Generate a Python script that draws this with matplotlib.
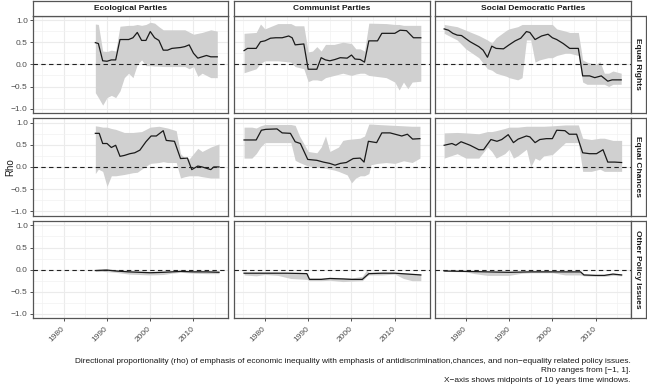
import matplotlib
matplotlib.use("Agg")
import matplotlib.pyplot as plt
from matplotlib.ticker import MultipleLocator

plt.rcParams['font.family'] = ['Liberation Sans', 'DejaVu Sans']

parties = ['Ecological Parties', 'Communist Parties', 'Social Democratic Parties']
issues = ['Equal Rights', 'Equal Chances', 'Other Policy Issues']
caption = ['Directional proportionality (rho) of emphasis of economic inequality with emphasis of '
           'antidiscrimination,chances, and non\u2212equality related policy issues.',
           'Rho ranges from [\u22121, 1].',
           'X\u2212axis shows midpoints of 10 years time windows.']

# --- Equal Rights ---
eco_rights_yr = [1987.3, 1988, 1989, 1990, 1991, 1992, 1993, 1995, 1996, 1997, 1998, 1999, 2000, 2001,
                 2002, 2003, 2004, 2005, 2007, 2008, 2009, 2010, 2011, 2012, 2013, 2014, 2015.5]
eco_rights_rho = [0.49, 0.47, 0.08, 0.07, 0.10, 0.10, 0.56, 0.56, 0.60, 0.72, 0.54, 0.54, 0.74, 0.60,
                  0.54, 0.32, 0.32, 0.36, 0.38, 0.40, 0.44, 0.25, 0.14, 0.17, 0.20, 0.17, 0.17]
eco_rights_band_yr = [1987.3, 1988, 1989, 1990, 1991, 1992, 1993, 1994, 1995, 1996, 1997, 1998, 1999,
                      2000, 2001, 2002, 2003, 2005, 2008, 2009, 2010, 2011, 2012, 2013, 2014, 2015.5]
eco_rights_hi = [0.91, 0.90, 0.30, 0.29, 0.32, 0.30, 0.86, 0.87, 0.88, 0.88, 0.90, 0.88, 0.90,
                 0.95, 0.93, 0.85, 0.78, 0.78, 0.78, 0.73, 0.68, 0.70, 0.72, 0.75, 0.78, 0.75]
eco_rights_lo = [-0.64, -0.75, -0.92, -0.75, -0.70, -0.75, -0.60, -0.30, -0.20, -0.30, 0.00, 0.10, -0.03,
                 -0.03, -0.04, -0.04, -0.05, -0.05, -0.05, -0.10, -0.05, -0.27, -0.20, -0.25, -0.30, -0.30]

com_rights_yr = [1975.2, 1976, 1978, 1979, 1980, 1981.3, 1982.5, 1984, 1985.5, 1986.3, 1987, 1989, 1990,
                 1992, 1993, 1994, 1995, 1996.2, 1997.4, 1999, 2000, 2000.8, 2002, 2003, 2004, 2006,
                 2007, 2008.5, 2010, 2011.2, 2012.7, 2014.3, 2016]
com_rights_rho = [0.31, 0.36, 0.36, 0.51, 0.53, 0.59, 0.60, 0.60, 0.64, 0.60, 0.44, 0.46, -0.11,
                  -0.11, 0.15, 0.10, 0.08, 0.11, 0.15, 0.14, 0.21, 0.12, 0.11, 0.05, 0.53, 0.53,
                  0.70, 0.70, 0.70, 0.77, 0.76, 0.60, 0.60]
com_rights_band_yr = [1975.2, 1978, 1979, 1980, 1983, 1986, 1987, 1989, 1990, 1991, 1992, 1993, 1994,
                      1996, 1998, 2000, 2001, 2002, 2003, 2004, 2008, 2010, 2011, 2012, 2013, 2014, 2016]
com_rights_hi = [0.70, 0.72, 0.91, 0.80, 0.92, 0.92, 0.87, 0.87, 0.28, 0.30, 0.40, 0.30, 0.45,
                 0.45, 0.50, 0.47, 0.35, 0.35, 0.30, 0.93, 0.92, 0.90, 0.90, 0.88, 0.88, 0.88, 0.88]
com_rights_lo = [-0.19, -0.10, 0.02, 0.08, 0.08, 0.05, -0.05, -0.10, -0.39, -0.35, -0.35, -0.37, -0.30,
                 -0.25, -0.20, -0.25, -0.22, -0.20, -0.20, -0.25, -0.30, -0.40, -0.58, -0.40, -0.55, -0.40, -0.38]

sd_rights_yr = [1975, 1976, 1977, 1978, 1979, 1981, 1983, 1984, 1985, 1986, 1987, 1988.7, 1990, 1991.4,
                1992.7, 1994, 1994.8, 1996, 1997.5, 1999, 2000, 2001, 2002.5, 2004, 2006, 2007, 2008.6,
                2009.8, 2011.3, 2012.8, 2013.8, 2015.9]
sd_rights_rho = [0.80, 0.77, 0.70, 0.66, 0.65, 0.51, 0.40, 0.32, 0.16, 0.41, 0.36, 0.35, 0.44, 0.53,
                 0.59, 0.74, 0.72, 0.56, 0.64, 0.68, 0.60, 0.56, 0.47, 0.36, 0.36, -0.26, -0.26,
                 -0.30, -0.26, -0.38, -0.35, -0.35]
sd_rights_band_yr = [1975, 1978, 1980, 1983, 1985, 1986, 1987, 1989.4, 1990, 1992, 1993, 1994, 1995,
                     1996, 1997, 1999, 2000, 2001, 2003, 2004, 2006, 2007, 2008, 2010, 2011, 2012,
                     2013, 2014, 2015.9]
sd_rights_hi = [0.90, 0.85, 0.77, 0.65, 0.55, 0.48, 0.60, 0.77, 0.80, 0.85, 0.90, 0.90, 0.90,
                0.90, 0.90, 0.90, 0.90, 0.80, 0.75, 0.72, 0.72, 0.10, 0.05, 0.00, 0.06, -0.20,
                -0.20, -0.15, -0.20]
sd_rights_lo = [0.70, 0.55, 0.35, 0.15, -0.10, -0.13, -0.20, -0.27, -0.30, -0.35, -0.30, 0.55, 0.55,
                0.05, 0.10, 0.15, 0.15, 0.20, 0.25, 0.25, 0.20, -0.40, -0.45, -0.45, -0.45, -0.45,
                -0.50, -0.45, -0.45]

# --- Equal Chances ---
eco_chances_yr = [1987.3, 1988.2, 1989, 1990, 1991, 1992, 1993, 1994, 1995.3, 1996.4, 1997.6, 1999,
                  2000.2, 2001.4, 2003, 2003.7, 2005.6, 2007, 2008.6, 2009.6, 2011, 2012, 2014, 2014.7, 2015.9]
eco_chances_rho = [0.76, 0.76, 0.53, 0.53, 0.44, 0.49, 0.24, 0.26, 0.30, 0.32, 0.38, 0.57,
                   0.70, 0.70, 0.82, 0.60, 0.58, 0.19, 0.20, -0.06, 0.02, 0.00, -0.06, 0.00, 0.00]
eco_chances_band_yr = [1987.3, 1988, 1989, 1990, 1991, 1992, 1994, 1995, 1996, 1997, 1998, 2000,
                       2002, 2003, 2004, 2006, 2007, 2008, 2009, 2011, 2012, 2014, 2015.9]
eco_chances_hi = [0.93, 0.92, 0.90, 0.90, 0.87, 0.85, 0.78, 0.78, 0.78, 0.79, 0.80, 0.90,
                  0.92, 0.90, 0.88, 0.82, 0.30, 0.20, 0.18, 0.42, 0.35, 0.45, 0.52]
eco_chances_lo = [-0.15, -0.05, -0.10, -0.44, -0.20, -0.20, -0.17, -0.15, -0.13, -0.12, -0.05, 0.08,
                  0.10, 0.12, 0.10, 0.10, -0.25, -0.22, -0.20, -0.20, -0.22, -0.25, -0.25]

com_chances_yr = [1975.2, 1978, 1979.2, 1980.2, 1982.8, 1984, 1985.9, 1987, 1988.2, 1989.9, 1992, 1993.5,
                  1995, 1996.2, 1997.4, 1998.8, 2000.4, 2002, 2002.9, 2003.9, 2005.8, 2007, 2008.9,
                  2011.6, 2012.9, 2014.1, 2015.8]
com_chances_rho = [0.61, 0.61, 0.83, 0.85, 0.86, 0.77, 0.76, 0.57, 0.53, 0.17, 0.15, 0.11,
                   0.08, 0.04, 0.08, 0.10, 0.19, 0.20, 0.11, 0.58, 0.55, 0.77, 0.77,
                   0.70, 0.74, 0.63, 0.64]
com_chances_band_yr = [1975.2, 1977, 1978, 1979, 1980, 1986, 1987, 1988, 1990, 1992, 1993, 1994, 1995,
                       1996, 1997, 1998, 1999, 2000, 2001, 2002, 2003, 2004, 2004.5, 2006, 2008, 2010,
                       2012, 2014, 2015.8]
com_chances_hi = [0.90, 0.90, 0.88, 0.93, 0.96, 0.96, 0.94, 0.70, 0.35, 0.32, 0.45, 0.70, 0.35,
                  0.40, 0.45, 0.60, 0.62, 0.63, 0.64, 0.65, 0.70, 0.97, 0.97, 0.96, 0.95, 0.94,
                  0.93, 0.92, 0.92]
com_chances_lo = [0.20, 0.20, 0.30, 0.45, 0.55, 0.55, 0.15, 0.10, 0.02, 0.00, -0.02, -0.03, -0.05,
                  -0.07, -0.10, -0.14, -0.18, -0.36, -0.25, -0.20, -0.20, -0.15, 0.05, 0.08, 0.10, 0.08,
                  0.14, 0.10, 0.20]

sd_chances_yr = [1975, 1976.8, 1977.7, 1978.9, 1981, 1983, 1984.1, 1985.8, 1987.2, 1988.3, 1989.8, 1991,
                 1992.1, 1994, 1994.8, 1996, 1997.1, 1998.6, 2000, 2001, 2002.9, 2003.9, 2005.6, 2007,
                 2008.6, 2010.2, 2011.7, 2012.8, 2014.4, 2016]
sd_chances_rho = [0.49, 0.53, 0.49, 0.57, 0.49, 0.39, 0.39, 0.62, 0.58, 0.62, 0.73, 0.55,
                  0.63, 0.70, 0.68, 0.55, 0.62, 0.64, 0.64, 0.83, 0.82, 0.74, 0.74, 0.32,
                  0.30, 0.30, 0.39, 0.11, 0.11, 0.10]
sd_chances_band_yr = [1975, 1978, 1980, 1983, 1985, 1986, 1987, 1989, 1990, 1991, 1992, 1994, 1995,
                      1996, 1997, 1998, 2000, 2003, 2006, 2007, 2009, 2011, 2012, 2014, 2016]
sd_chances_hi = [0.77, 0.78, 0.77, 0.75, 0.80, 0.80, 0.82, 0.87, 0.90, 0.90, 0.90, 0.92, 0.92,
                 0.92, 0.92, 0.92, 0.93, 0.95, 0.95, 0.65, 0.62, 0.65, 0.65, 0.60, 0.60]
sd_chances_lo = [0.20, 0.30, 0.20, 0.20, 0.45, 0.35, 0.20, 0.30, 0.40, 0.20, 0.25, 0.40, 0.00,
                 0.20, 0.15, 0.25, 0.28, 0.55, 0.55, -0.10, -0.10, -0.05, -0.10, -0.10, -0.10]

# --- Other Policy Issues ---
eco_other_yr = [1987.3, 1990, 1992, 1995, 2000, 2003, 2005, 2007, 2010, 2013, 2015.9]
eco_other_rho = [-0.02, -0.01, -0.03, -0.05, -0.07, -0.06, -0.05, -0.04, -0.05, -0.05, -0.06]
eco_other_band_yr = [1987.3, 1989, 1992, 1995, 2000, 2003, 2005, 2007, 2010, 2013, 2015.9]
eco_other_hi = [0.00, 0.02, 0.00, -0.02, -0.04, -0.03, -0.03, 0.00, -0.02, -0.02, -0.03]
eco_other_lo = [-0.04, -0.04, -0.06, -0.10, -0.12, -0.11, -0.08, -0.06, -0.08, -0.09, -0.09]

com_other_yr = [1975.2, 1980, 1985, 1989.7, 1990.3, 1993, 1995, 1998, 2000, 2002.5, 2004, 2007, 2010,
                2013, 2016]
com_other_rho = [-0.08, -0.08, -0.08, -0.09, -0.22, -0.22, -0.20, -0.21, -0.22, -0.22, -0.09, -0.08,
                 -0.08, -0.10, -0.12]
com_other_band_yr = [1975.2, 1978, 1980, 1983, 1986, 1989.7, 1990.3, 1993, 1995, 1998, 2000, 2002.5,
                     2003.5, 2004, 2007, 2010, 2012, 2014, 2016]
com_other_hi = [-0.06, -0.06, -0.06, -0.06, -0.07, -0.08, -0.19, -0.19, -0.17, -0.18, -0.19, -0.15,
                -0.01, -0.06, -0.06, -0.06, -0.07, -0.09, -0.10]
com_other_lo = [-0.12, -0.14, -0.11, -0.13, -0.20, -0.22, -0.25, -0.25, -0.24, -0.27, -0.26, -0.25,
                -0.15, -0.12, -0.12, -0.10, -0.20, -0.25, -0.25]

sd_other_yr = [1975, 1980, 1985, 1990, 1995, 2000, 2006.5, 2007.3, 2010, 2012, 2014, 2016]
sd_other_rho = [-0.03, -0.04, -0.05, -0.06, -0.05, -0.05, -0.05, -0.12, -0.13, -0.13, -0.10, -0.12]
sd_other_band_yr = [1975, 1980, 1982, 1985, 1990, 1993, 1995, 2000, 2003, 2006.5, 2007.3, 2010, 2012,
                    2014, 2016]
sd_other_hi = [-0.02, -0.03, -0.03, -0.04, -0.04, -0.04, -0.03, -0.03, -0.04, -0.04, -0.10, -0.11,
               -0.11, -0.08, -0.10]
sd_other_lo = [-0.04, -0.05, -0.09, -0.13, -0.13, -0.08, -0.07, -0.07, -0.12, -0.12, -0.14, -0.15,
               -0.15, -0.13, -0.14]

grid = [
    [(eco_rights_yr, eco_rights_rho, eco_rights_band_yr, eco_rights_hi, eco_rights_lo),
     (com_rights_yr, com_rights_rho, com_rights_band_yr, com_rights_hi, com_rights_lo),
     (sd_rights_yr, sd_rights_rho, sd_rights_band_yr, sd_rights_hi, sd_rights_lo)],
    [(eco_chances_yr, eco_chances_rho, eco_chances_band_yr, eco_chances_hi, eco_chances_lo),
     (com_chances_yr, com_chances_rho, com_chances_band_yr, com_chances_hi, com_chances_lo),
     (sd_chances_yr, sd_chances_rho, sd_chances_band_yr, sd_chances_hi, sd_chances_lo)],
    [(eco_other_yr, eco_other_rho, eco_other_band_yr, eco_other_hi, eco_other_lo),
     (com_other_yr, com_other_rho, com_other_band_yr, com_other_hi, com_other_lo),
     (sd_other_yr, sd_other_rho, sd_other_band_yr, sd_other_hi, sd_other_lo)],
]

W, H = 647, 384
fig = plt.figure(figsize=(W / 100, H / 100), dpi=100)

col_x = [(33.3, 228.3), (234.3, 429.7), (435.3, 630.5)]
row_y = [(15.6, 113.1), (118.3, 215.6), (221.0, 318.3)]
border = '#555555'


def box(x0, x1, y0, y1):
    return [x0 / W, 1 - y1 / H, (x1 - x0) / W, (y1 - y0) / H]


for i, row in enumerate(grid):
    for j, (yr, rho, byr, hi, lo) in enumerate(row):
        ax = fig.add_axes(box(col_x[j][0], col_x[j][1], row_y[i][0], row_y[i][1]))
        ax.set_xlim(1972.95, 2018.05)
        ax.set_ylim(-1.1, 1.1)
        ax.xaxis.set_major_locator(MultipleLocator(10))
        ax.xaxis.set_minor_locator(MultipleLocator(5))
        ax.yaxis.set_major_locator(MultipleLocator(0.5))
        ax.yaxis.set_minor_locator(MultipleLocator(0.25))
        ax.grid(True, which='major', color='#EBEBEB', lw=0.8)
        ax.grid(True, which='minor', color='#F2F2F2', lw=0.5)
        ax.set_axisbelow(True)
        ax.fill_between(byr, lo, hi, color='#D0D0D0', lw=0, zorder=2)
        ax.plot(yr, rho, color='#1a1a1a', lw=0.9, zorder=3)
        ax.axhline(0, color='#222222', lw=0.8, ls=(0, (4, 3)), zorder=4)
        for s in ax.spines.values():
            s.set_color(border)
            s.set_linewidth(0.9)
        ax.tick_params(which='major', length=2.5, width=0.6, color='#333333',
                       labelsize=6, labelcolor='#4d4d4d', pad=1.5)
        ax.tick_params(which='minor', length=0)
        if j == 0:
            ax.set_yticklabels([f'{v:.1f}'.replace('-', '\u2212') for v in ax.get_yticks()])
        else:
            ax.tick_params(axis='y', which='major', length=0, labelleft=False)
        if i == 2:
            ax.set_xticks([1980, 1990, 2000, 2010])
            ax.set_xticklabels(['1980', '1990', '2000', '2010'], rotation=45,
                               ha='right', va='center', rotation_mode='anchor')
            ax.tick_params(axis='x', pad=4)
        else:
            ax.tick_params(axis='x', which='major', length=0, labelbottom=False)

# facet strips
for j, name in enumerate(parties):
    sax = fig.add_axes(box(col_x[j][0], col_x[j][1], 0.6, 15.6))
    sax.set_xticks([])
    sax.set_yticks([])
    for s in sax.spines.values():
        s.set_color(border)
        s.set_linewidth(0.9)
    sax.text(0.5, 0.5, name, ha='center', va='center', fontsize=6, fontweight='bold',
             color='#1a1a1a', transform=sax.transAxes)

for i, name in enumerate(issues):
    sax = fig.add_axes(box(630.5, 645.5, row_y[i][0], row_y[i][1]))
    sax.set_xticks([])
    sax.set_yticks([])
    for s in sax.spines.values():
        s.set_color(border)
        s.set_linewidth(0.9)
    sax.text(0.5, 0.5, name, ha='center', va='center', rotation=-90, fontsize=6,
             fontweight='bold', color='#1a1a1a', transform=sax.transAxes)

fig.text(10.5 / W, 1 - 167 / H, 'Rho', rotation=90, ha='center', va='center', fontsize=7, color='#1a1a1a')

for k, line in enumerate(caption):
    fig.text(630.5 / W, 1 - (363 + 9.3 * k) / H, line, ha='right', va='baseline', fontsize=5.95,
             color='#1a1a1a')

fig.savefig('out.png', dpi=100)
